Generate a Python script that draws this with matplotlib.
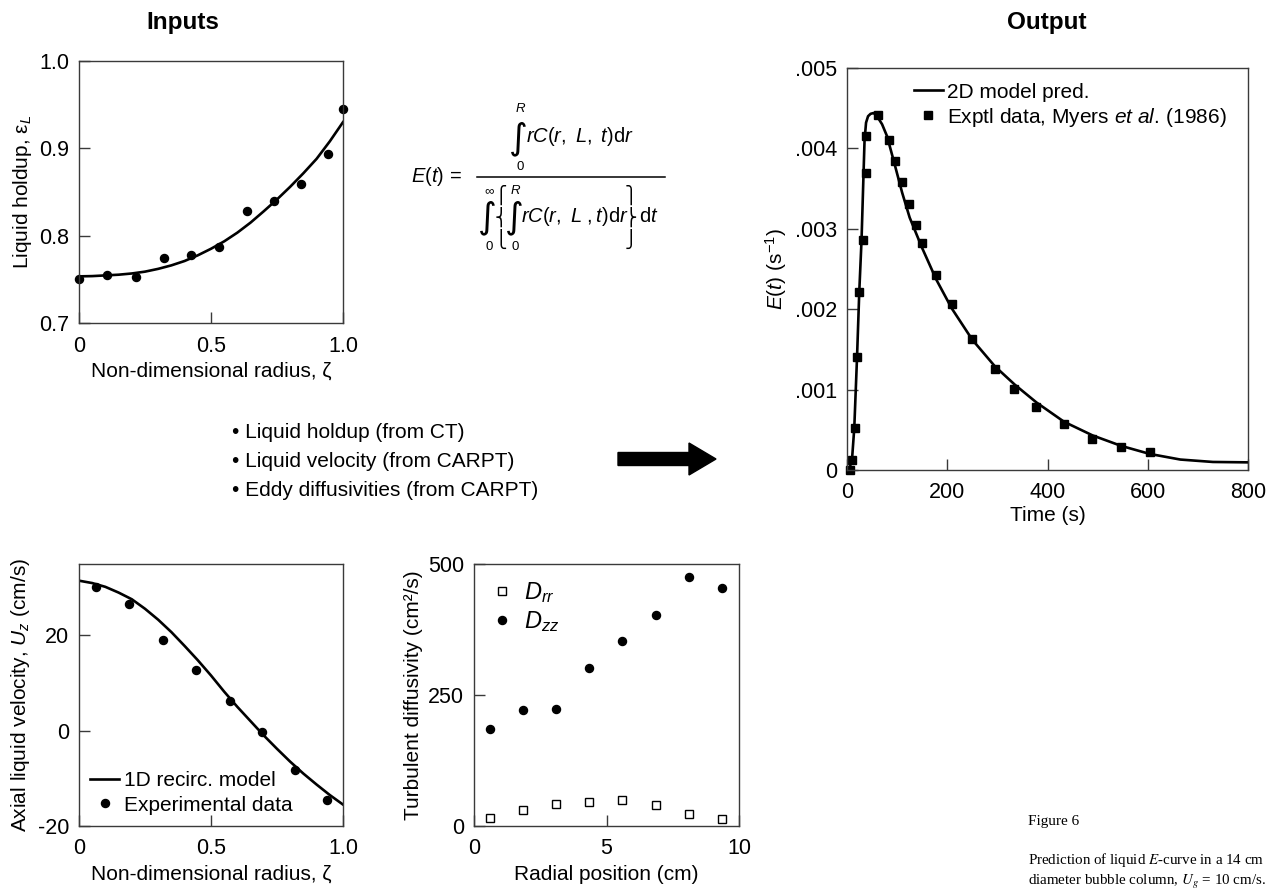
import numpy as np
import matplotlib
matplotlib.use('Agg')
import matplotlib.pyplot as plt
from matplotlib.patches import FancyArrow
from matplotlib.ticker import FuncFormatter

plt.rcParams['font.family'] = ['Liberation Sans', 'DejaVu Sans']
plt.rcParams['mathtext.fontset'] = 'custom'
plt.rcParams['mathtext.rm'] = 'Liberation Sans'
plt.rcParams['mathtext.it'] = 'Liberation Sans:italic'
plt.rcParams['mathtext.bf'] = 'Liberation Sans:bold'
plt.rcParams['axes.unicode_minus'] = False

# liquid holdup vs non-dimensional radius
holdup_zeta = [0.0, 0.105, 0.215, 0.321, 0.425, 0.532, 0.636, 0.740, 0.842, 0.944, 1.0]
holdup_exp = [0.750, 0.7546, 0.7527, 0.774, 0.7775, 0.7866, 0.828, 0.8393, 0.8588, 0.8939, 0.9454]
holdup_fit_zeta = [0.0, 0.05, 0.1, 0.15, 0.2, 0.25, 0.3, 0.35, 0.4, 0.45, 0.5,
                   0.55, 0.6, 0.65, 0.7, 0.75, 0.8, 0.85, 0.9, 0.95, 1.0]
holdup_fit = [0.7534, 0.7537, 0.7545, 0.7553, 0.7567, 0.7588, 0.762, 0.766, 0.771, 0.7775, 0.785,
              0.7935, 0.8035, 0.815, 0.828, 0.8415, 0.856, 0.8715, 0.888, 0.908, 0.930]

# axial liquid velocity vs non-dimensional radius
vel_zeta = [0.063, 0.191, 0.319, 0.444, 0.571, 0.692, 0.817, 0.938]
vel_exp = [30.2, 26.7, 18.95, 12.7, 6.3, -0.36, -8.2, -14.6]
vel_fit_zeta = [0.0, 0.05, 0.1, 0.15, 0.2, 0.25, 0.3, 0.35, 0.4, 0.45, 0.5,
                0.55, 0.6, 0.65, 0.7, 0.75, 0.8, 0.85, 0.9, 0.95, 1.0]
vel_fit = [31.5, 31.0, 30.2, 29.0, 27.6, 25.6, 23.3, 20.7, 17.8, 14.8, 11.6,
           8.2, 5.0, 2.0, -1.0, -3.8, -6.5, -9.0, -11.3, -13.5, -15.5]

# turbulent diffusivities vs radial position
rad_pos = [0.6, 1.85, 3.1, 4.35, 5.6, 6.85, 8.1, 9.35]
d_rr = [15.3, 30.5, 42, 45.8, 49.6, 39.4, 23.5, 13.4]
d_zz = [185, 220.7, 224, 302, 353, 403, 476, 454]

# E-curve: experimental data and 2D model prediction
t_exp = [6, 10.5, 16, 20, 24.5, 31, 37.5, 38.5, 61, 84, 96, 110, 123, 137, 149,
         178, 209, 250, 295, 334, 377, 433, 489, 546, 604]
e_exp = [0.0, 0.00013, 0.00052, 0.00140, 0.00222, 0.00286, 0.00369, 0.00416, 0.00441,
         0.00410, 0.00384, 0.00358, 0.00331, 0.00305, 0.00282, 0.00242, 0.00207,
         0.00163, 0.00126, 0.00101, 0.00078, 0.00057, 0.00039, 0.00029, 0.00022]
t_model = [0, 5, 10, 14.5, 20, 24.5, 29, 33, 35, 38, 42, 47, 53, 60, 70, 80, 96, 110, 125, 150,
           178, 209, 250, 295, 335, 378, 433, 490, 547, 604, 665, 730, 800]
e_model = [0.0, 0.00002, 0.00013, 0.00052, 0.00140, 0.00222, 0.00286, 0.00369, 0.00410,
           0.00432, 0.00440, 0.00443, 0.00444, 0.00440, 0.00430, 0.00415, 0.00378, 0.00345,
           0.00314, 0.00276, 0.00237, 0.00201, 0.00162, 0.00129, 0.00106, 0.00084,
           0.00060, 0.00043, 0.00030, 0.00020, 0.00013, 0.00010, 0.000095]

W, H = 1278, 893
fig = plt.figure(figsize=(W / 100, H / 100), dpi=100)


def make_axes(left, right, top, bottom):
    ax = fig.add_axes([left / W, (H - bottom) / H, (right - left) / W, (bottom - top) / H])
    for s in ax.spines.values():
        s.set_linewidth(1.0)
        s.set_color('#3a3a3a')
    ax.tick_params(direction='in', length=8, width=1.0, color='#3a3a3a',
                   labelsize=15.5, top=False, right=False)
    ax.tick_params(axis='x', pad=9)
    ax.tick_params(axis='y', pad=7)
    return ax


lab = 15
lw = 1.9

# holdup
ax1 = make_axes(79, 343, 61, 323)
ax1.plot(holdup_fit_zeta, holdup_fit, color='black', lw=lw)
ax1.plot(holdup_zeta, holdup_exp, 'o', color='black', ms=5.8, clip_on=False)
ax1.set_xlim(0, 1)
ax1.set_ylim(0.7, 1.0)
ax1.set_xticks([0, 0.5, 1.0])
ax1.set_xticklabels(['0', '0.5', '1.0'])
ax1.set_yticks([0.7, 0.8, 0.9, 1.0])
ax1.set_yticklabels(['0.7', '0.8', '0.9', '1.0'])
ax1.set_xlabel('Non-dimensional radius, ζ', fontsize=lab)
ax1.set_ylabel(r'Liquid holdup, $\mathrm{ε}_L$', fontsize=lab)

# velocity
ax2 = make_axes(79, 343, 564, 826)
ax2.plot(vel_fit_zeta, vel_fit, color='black', lw=lw, label='1D recirc. model')
ax2.plot(vel_zeta, vel_exp, 'o', color='black', ms=5.8, label='Experimental data')
ax2.set_xlim(0, 1)
ax2.set_ylim(-20, 35)
ax2.set_xticks([0, 0.5, 1.0])
ax2.set_xticklabels(['0', '0.5', '1.0'])
ax2.set_yticks([-20, 0, 20])
ax2.set_xlabel('Non-dimensional radius, ζ', fontsize=lab)
ax2.set_ylabel(r'Axial liquid velocity, $U_z$ (cm/s)', fontsize=lab)
ax2.legend(loc='lower left', frameon=False, fontsize=lab, handlelength=1.35,
           handletextpad=0.25, borderaxespad=0.15, labelspacing=0.25)

# diffusivities
ax3 = make_axes(474, 739, 564, 826)
ax3.plot(rad_pos, d_rr, 's', mfc='white', mec='black', mew=1.0, ms=5.5, label=r'$D_{rr}$')
ax3.plot(rad_pos, d_zz, 'o', color='black', ms=5.8, label=r'$D_{zz}$')
ax3.set_xlim(0, 10)
ax3.set_ylim(0, 500)
ax3.set_xticks([0, 5, 10])
ax3.set_yticks([0, 250, 500])
ax3.set_xlabel('Radial position (cm)', fontsize=lab)
ax3.set_ylabel('Turbulent diffusivity (cm²/s)', fontsize=lab)
ax3.legend(loc='upper left', frameon=False, fontsize=17, handlelength=1.0,
           handletextpad=0.4, borderaxespad=0.3, labelspacing=0.15)

# E-curve
ax4 = make_axes(847, 1248, 68, 470)
ax4.plot(t_model, e_model, color='black', lw=lw, label='2D model pred.')
ax4.plot(t_exp, e_exp, 's', color='black', ms=5.8,
         label=r'Exptl data, Myers $et\ al.\,$(1986)', clip_on=False)
ax4.set_xlim(0, 800)
ax4.set_ylim(0, 0.005)
ax4.set_xticks([0, 200, 400, 600, 800])
ax4.set_yticks([0, 0.001, 0.002, 0.003, 0.004, 0.005])
ax4.yaxis.set_major_formatter(FuncFormatter(lambda v, p: '0' if v == 0 else ('%.3f' % v).lstrip('0')))
ax4.set_xlabel('Time (s)', fontsize=lab, labelpad=1.5)
ax4.set_ylabel(r'$E(t)$ (s$^{-1}$)', fontsize=lab)
ax4.legend(loc='upper left', bbox_to_anchor=(0.13, 1.0), frameon=False, fontsize=lab,
           handlelength=1.4, handletextpad=0.2, labelspacing=0.2, borderaxespad=0.3)

# overlay in pixel coordinates for annotations
ov = fig.add_axes([0, 0, 1, 1])
ov.set_xlim(0, W)
ov.set_ylim(H, 0)
ov.axis('off')
ov.patch.set_alpha(0)

ov.text(183, 22, 'Inputs', fontsize=17.5, fontweight='bold', ha='center', va='center')
ov.text(1047, 22, 'Output', fontsize=17.5, fontweight='bold', ha='center', va='center')

# E(t) definition, set piece by piece
eqs = 14.5
ov.text(462, 177, r'$E(t)$ =', fontsize=eqs, ha='right', va='center')
ov.plot([477, 665], [177, 177], color='black', lw=1.1)
# numerator
ov.text(518, 139, '∫', fontsize=26, family='DejaVu Sans', ha='center', va='center')
ov.text(521, 109, r'$R$', fontsize=9.5, ha='center', va='center')
ov.text(520, 167, '0', fontsize=9.5, ha='center', va='center')
ov.text(526, 137, r'$rC(r,\ L,\ t)\mathrm{d}r$', fontsize=eqs, ha='left', va='center')
# denominator
ov.text(487, 218, '∫', fontsize=26, family='DejaVu Sans', ha='center', va='center')
ov.text(489, 191, '∞', fontsize=9.5, ha='center', va='center')
ov.text(489, 247, '0', fontsize=9.5, ha='center', va='center')
ov.text(514, 218, '∫', fontsize=26, family='DejaVu Sans', ha='center', va='center')
ov.text(516, 191, r'$R$', fontsize=9.5, ha='center', va='center')
ov.text(515, 247, '0', fontsize=9.5, ha='center', va='center')
ov.text(521, 217, r'$rC(r,\ L\ ,t)\mathrm{d}r$', fontsize=eqs, ha='left', va='center')
ov.text(639, 217, r'd$t$', fontsize=eqs, ha='left', va='center')
# thin tall braces built from bracket pieces
for piece_l, piece_r, yy in [('⎧', '⎫', 195), ('⎨', '⎬', 217), ('⎩', '⎭', 239)]:
    ov.text(501, yy, piece_l, fontsize=12, family='DejaVu Sans', ha='center', va='center')
    ov.text(631, yy, piece_r, fontsize=12, family='DejaVu Sans', ha='center', va='center')

bullets = ['• Liquid holdup (from CT)', '• Liquid velocity (from CARPT)',
           '• Eddy diffusivities (from CARPT)']
for i, b in enumerate(bullets):
    ov.text(232, 432 + 29.5 * i, b, fontsize=15, ha='left', va='center')

ov.add_patch(FancyArrow(618, 459, 98, 0, width=13, head_width=32, head_length=27,
                        length_includes_head=True, color='black'))

ov.text(1028, 822, 'Figure 6', fontsize=11, family='Liberation Serif', ha='left', va='center')
ov.text(1028, 860, r'Prediction of liquid $E$-curve in a 14 cm', fontsize=10.8,
        family='Liberation Serif', math_fontfamily='stix', ha='left', va='center')
ov.text(1028, 882, r'diameter bubble column, $U_g$ = 10 cm/s.', fontsize=10.8,
        family='Liberation Serif', math_fontfamily='stix', ha='left', va='center')

fig.savefig('out.png', dpi=100)
